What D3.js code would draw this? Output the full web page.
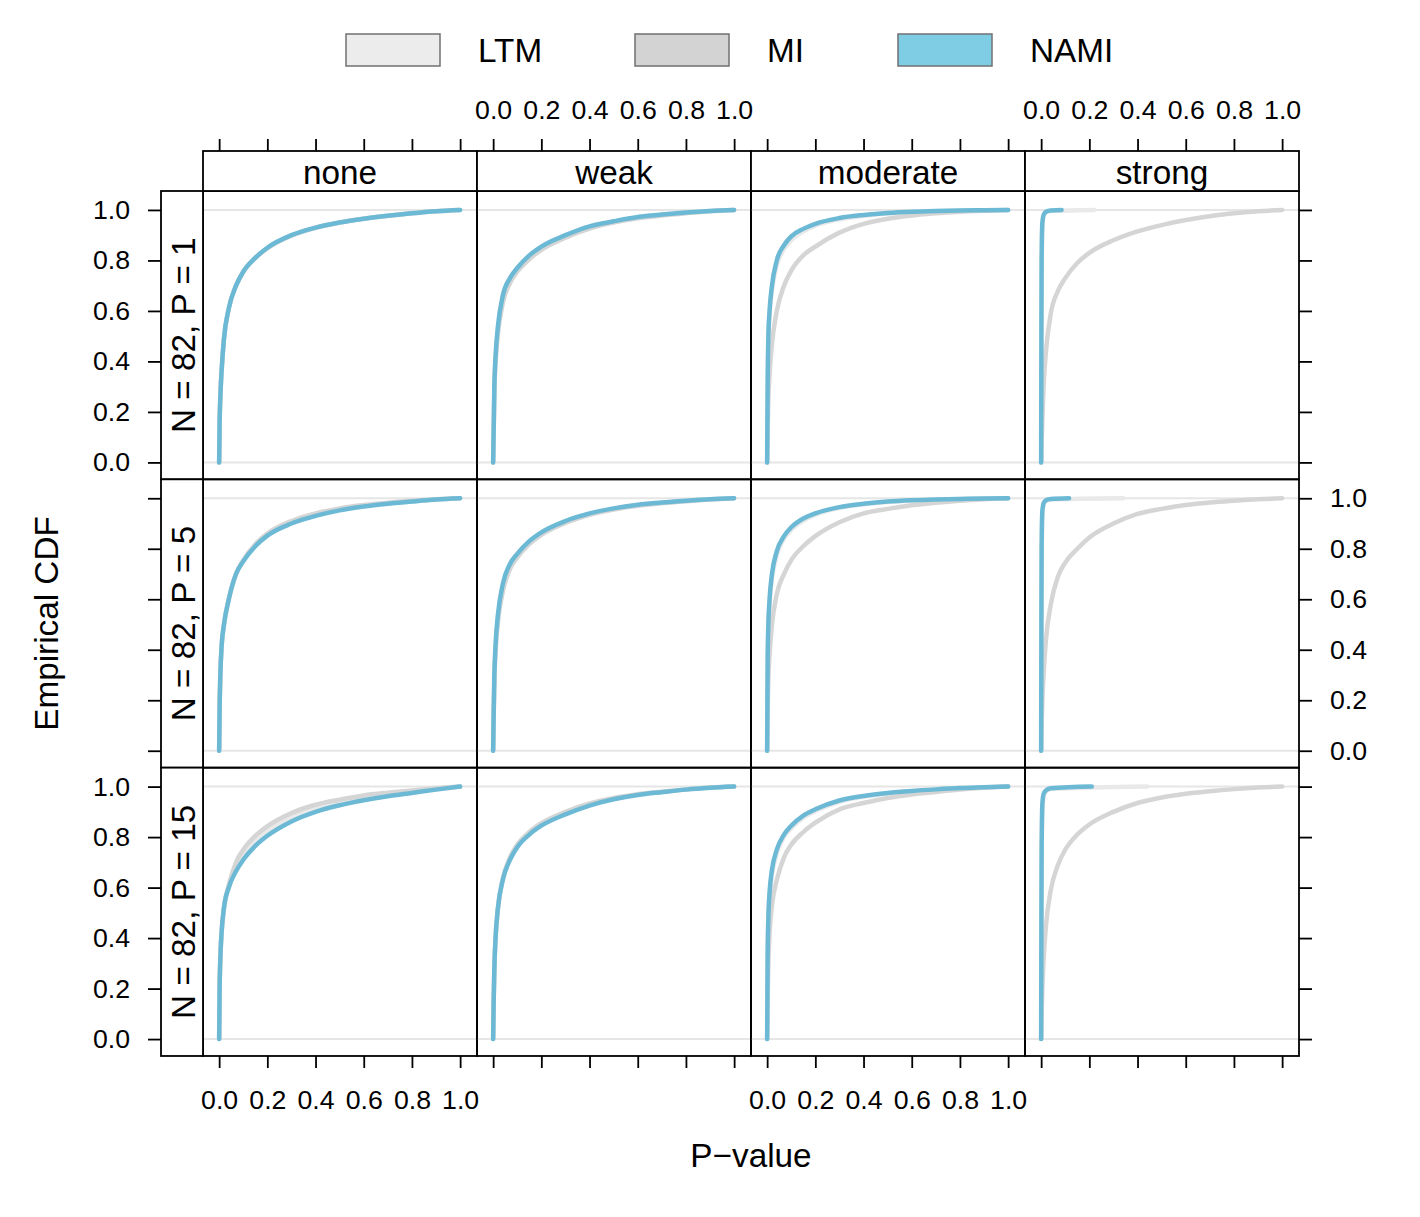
<!DOCTYPE html>
<html>
<head>
<meta charset="utf-8">
<script src="https://cdn.jsdelivr.net/npm/d3@7"></script>
<style>
  body { margin: 0; background: #fff; }
  svg { font-family: "Liberation Sans", Arial, Helvetica, sans-serif; }
</style>
</head>
<body>
<script>
// panel layout: columns = effect strength, rows = N/P setting
const cols = ["none", "weak", "moderate", "strong"];
const rows = ["N = 82, P = 1", "N = 82, P = 5", "N = 82, P = 15"];
const methods = ["LTM", "MI", "NAMI"];
const legendFill = ["#ececec", "#d3d3d3", "#7fcde5"];
const lineColor = ["#e9e9e9", "#d5d5d5", "#6cb9d5"];
const tickVals = [0, 0.2, 0.4, 0.6, 0.8, 1.0];

// p-value grid where the ECDF values were read
const pGrid = [0, 0.002, 0.005, 0.01, 0.02, 0.04, 0.07, 0.1, 0.15, 0.2, 0.3, 0.4, 0.5, 0.6, 0.7, 0.8, 0.9, 1.0];
// finer grid for the near-vertical curves in the "strong" column (last p is per row)
const pStrong = [0, 0.001, 0.002, 0.005, 0.01, 0.02, 0.04];
const namiStrongEnd = [0.085, 0.116, 0.21];
const ltmStrongEnd = [0.22, 0.34, 0.44];

// ECDF values, one array per method and row, one sub array per column
const ltmP1 = [
  [0, 0.16, 0.26, 0.36, 0.49, 0.61, 0.7, 0.755, 0.81, 0.85, 0.9, 0.93, 0.95, 0.965, 0.977, 0.987, 0.995, 1],
  [0, 0.11, 0.29, 0.41, 0.53, 0.65, 0.72, 0.765, 0.815, 0.85, 0.897, 0.932, 0.953, 0.97, 0.98, 0.989, 0.996, 1],
  [0, 0.28, 0.48, 0.58, 0.68, 0.78, 0.845, 0.88, 0.915, 0.938, 0.963, 0.977, 0.986, 0.992, 0.995, 0.997, 0.999, 1],
  [0, 0.45, 0.75, 0.93, 0.975, 0.99, 0.996, 1]
];
const miP1 = [
  [0, 0.16, 0.26, 0.36, 0.49, 0.61, 0.7, 0.755, 0.81, 0.848, 0.898, 0.929, 0.95, 0.965, 0.977, 0.987, 0.995, 1],
  [0, 0.1, 0.27, 0.39, 0.51, 0.63, 0.71, 0.755, 0.805, 0.842, 0.89, 0.926, 0.95, 0.967, 0.978, 0.987, 0.995, 1],
  [0, 0.12, 0.25, 0.35, 0.47, 0.6, 0.7, 0.76, 0.82, 0.855, 0.91, 0.945, 0.965, 0.978, 0.987, 0.993, 0.997, 1],
  [0, 0.08, 0.17, 0.3, 0.44, 0.59, 0.68, 0.73, 0.79, 0.83, 0.88, 0.915, 0.94, 0.96, 0.975, 0.987, 0.995, 1]
];
const namiP1 = [
  [0, 0.16, 0.26, 0.36, 0.49, 0.61, 0.7, 0.755, 0.81, 0.85, 0.9, 0.93, 0.95, 0.965, 0.977, 0.987, 0.995, 1],
  [0, 0.12, 0.3, 0.42, 0.54, 0.66, 0.73, 0.77, 0.82, 0.855, 0.9, 0.935, 0.955, 0.972, 0.982, 0.99, 0.996, 1],
  [0, 0.3, 0.5, 0.6, 0.7, 0.8, 0.86, 0.895, 0.925, 0.945, 0.968, 0.98, 0.988, 0.993, 0.996, 0.998, 0.999, 1],
  [0, 0.5, 0.8, 0.95, 0.98, 0.993, 0.998, 1]
];
const ltmP5 = [
  [0, 0.17, 0.3, 0.41, 0.5, 0.6, 0.7, 0.752, 0.814, 0.856, 0.905, 0.935, 0.956, 0.97, 0.98, 0.988, 0.995, 1],
  [0, 0.13, 0.29, 0.41, 0.53, 0.65, 0.73, 0.775, 0.825, 0.86, 0.906, 0.937, 0.958, 0.972, 0.982, 0.989, 0.996, 1],
  [0, 0.33, 0.48, 0.58, 0.68, 0.775, 0.84, 0.875, 0.912, 0.934, 0.962, 0.976, 0.985, 0.991, 0.995, 0.997, 0.999, 1],
  [0, 0.45, 0.75, 0.93, 0.975, 0.99, 0.995, 1]
];
const miP5 = [
  [0, 0.17, 0.3, 0.41, 0.5, 0.6, 0.7, 0.755, 0.818, 0.86, 0.91, 0.94, 0.96, 0.973, 0.982, 0.99, 0.996, 1],
  [0, 0.12, 0.27, 0.39, 0.51, 0.63, 0.72, 0.765, 0.818, 0.855, 0.902, 0.934, 0.955, 0.97, 0.98, 0.988, 0.995, 1],
  [0, 0.15, 0.28, 0.38, 0.5, 0.62, 0.7, 0.755, 0.81, 0.85, 0.905, 0.94, 0.958, 0.972, 0.982, 0.99, 0.996, 1],
  [0, 0.1, 0.2, 0.3, 0.44, 0.58, 0.69, 0.745, 0.8, 0.845, 0.9, 0.938, 0.958, 0.973, 0.983, 0.99, 0.996, 1]
];
const namiP5 = [
  [0, 0.17, 0.3, 0.41, 0.5, 0.6, 0.7, 0.75, 0.81, 0.852, 0.9, 0.93, 0.952, 0.967, 0.978, 0.987, 0.995, 1],
  [0, 0.14, 0.3, 0.42, 0.54, 0.66, 0.74, 0.78, 0.83, 0.865, 0.91, 0.94, 0.96, 0.974, 0.983, 0.99, 0.996, 1],
  [0, 0.35, 0.5, 0.6, 0.7, 0.79, 0.85, 0.885, 0.92, 0.94, 0.965, 0.978, 0.987, 0.992, 0.995, 0.997, 0.999, 1],
  [0, 0.5, 0.8, 0.95, 0.98, 0.992, 0.997, 1]
];
const ltmP15 = [
  [0, 0.2, 0.32, 0.42, 0.52, 0.61, 0.685, 0.73, 0.785, 0.825, 0.88, 0.918, 0.94, 0.958, 0.971, 0.981, 0.991, 1],
  [0, 0.14, 0.28, 0.4, 0.52, 0.632, 0.715, 0.765, 0.815, 0.85, 0.895, 0.929, 0.952, 0.968, 0.979, 0.988, 0.995, 1],
  [0, 0.31, 0.46, 0.56, 0.65, 0.735, 0.8, 0.835, 0.877, 0.903, 0.94, 0.96, 0.973, 0.982, 0.988, 0.993, 0.997, 1],
  [0, 0.4, 0.7, 0.9, 0.96, 0.98, 0.99, 1]
];
const miP15 = [
  [0, 0.2, 0.32, 0.42, 0.52, 0.61, 0.7, 0.75, 0.805, 0.843, 0.895, 0.928, 0.948, 0.965, 0.976, 0.985, 0.993, 1],
  [0, 0.14, 0.28, 0.4, 0.52, 0.635, 0.72, 0.77, 0.82, 0.855, 0.9, 0.933, 0.955, 0.97, 0.98, 0.989, 0.996, 1],
  [0, 0.15, 0.3, 0.42, 0.53, 0.63, 0.72, 0.77, 0.82, 0.857, 0.91, 0.935, 0.955, 0.969, 0.979, 0.988, 0.995, 1],
  [0, 0.1, 0.2, 0.31, 0.45, 0.59, 0.69, 0.75, 0.81, 0.85, 0.9, 0.935, 0.957, 0.972, 0.982, 0.99, 0.996, 1]
];
const namiP15 = [
  [0, 0.2, 0.32, 0.42, 0.52, 0.6, 0.665, 0.71, 0.765, 0.805, 0.862, 0.9, 0.926, 0.946, 0.962, 0.975, 0.988, 1],
  [0, 0.14, 0.28, 0.4, 0.52, 0.63, 0.71, 0.76, 0.81, 0.845, 0.89, 0.925, 0.95, 0.967, 0.978, 0.988, 0.995, 1],
  [0, 0.33, 0.48, 0.58, 0.67, 0.75, 0.81, 0.845, 0.885, 0.91, 0.945, 0.963, 0.975, 0.983, 0.989, 0.994, 0.997, 1],
  [0, 0.45, 0.75, 0.93, 0.97, 0.985, 0.993, 1]
];

const ecdf = [
  [ltmP1, miP1, namiP1],
  [ltmP5, miP5, namiP5],
  [ltmP15, miP15, namiP15]
];

// structure of the svg
const width = 1420, height = 1217;
const plotLeft = 203, plotTop = 191;
const panelW = 274, panelH = 288.33;
const stripH = 40, sideStripW = 42;
const tickLen = 12;
const tickFont = 26.7, mainFont = 33.3;

const svg = d3.select("body").append("svg")
  .attr("width", width).attr("height", height);

const xScale = d3.scaleLinear().domain([-0.067, 1.07]).range([0, panelW]);
const yScale = d3.scaleLinear().domain([-0.067, 1.075]).range([panelH, 0]);

const line = d3.line()
  .x(d => xScale(d[0]))
  .y(d => yScale(d[1]))
  .curve(d3.curveMonotoneX);

function pointsFor(r, c, m) {
  const vals = ecdf[r][m][c];
  let ps = pGrid;
  if (c === 3 && m !== 1) {
    ps = pStrong.concat([m === 2 ? namiStrongEnd[r] : ltmStrongEnd[r]]);
  }
  return vals.map((v, i) => [ps[i], v]);
}

// panels
rows.forEach((rowName, r) => {
  cols.forEach((colName, c) => {
    const g = svg.append("g")
      .attr("transform", "translate(" + (plotLeft + c * panelW) + "," + (plotTop + r * panelH) + ")");

    // reference lines at 0 and 1
    g.selectAll("line.ref")
      .data([0, 1])
      .enter()
      .append("line")
      .attr("class", "ref")
      .attr("x1", 0).attr("x2", panelW)
      .attr("y1", d => yScale(d)).attr("y2", d => yScale(d))
      .attr("stroke", "#e6e6e6")
      .attr("stroke-width", 2);

    methods.forEach((m, mi) => {
      g.append("path")
        .datum(pointsFor(r, c, mi))
        .attr("d", line)
        .attr("fill", "none")
        .attr("stroke", lineColor[mi])
        .attr("stroke-width", 4.5)
        .attr("stroke-linecap", "round")
        .attr("stroke-linejoin", "round");
    });

    g.append("rect")
      .attr("width", panelW).attr("height", panelH)
      .attr("fill", "none")
      .attr("stroke", "#000")
      .attr("stroke-width", 1.8);
  });
});

// top strips
cols.forEach((colName, c) => {
  const x0 = plotLeft + c * panelW;
  svg.append("rect")
    .attr("x", x0).attr("y", plotTop - stripH)
    .attr("width", panelW).attr("height", stripH)
    .attr("fill", "#fff").attr("stroke", "#000").attr("stroke-width", 1.8);
  svg.append("text")
    .attr("x", x0 + panelW / 2).attr("y", plotTop - 7)
    .attr("text-anchor", "middle")
    .attr("font-size", mainFont)
    .text(colName);
});

// side strips
rows.forEach((rowName, r) => {
  const y0 = plotTop + r * panelH;
  svg.append("rect")
    .attr("x", plotLeft - sideStripW).attr("y", y0)
    .attr("width", sideStripW).attr("height", panelH)
    .attr("fill", "#fff").attr("stroke", "#000").attr("stroke-width", 1.8);
  svg.append("text")
    .attr("transform", "translate(" + (plotLeft - 8) + "," + (y0 + panelH / 2) + ") rotate(-90)")
    .attr("text-anchor", "middle")
    .attr("font-size", mainFont)
    .text(rowName);
});

function styleAxis(sel) {
  sel.select(".domain").remove();
  sel.selectAll(".tick line").attr("stroke", "#000").attr("stroke-width", 1.8);
  sel.selectAll(".tick text").attr("font-size", tickFont).attr("fill", "#000");
  sel.attr("font-family", null);
}

// x axes: labels alternate between bottom (none, moderate) and top (weak, strong)
cols.forEach((colName, c) => {
  const x0 = plotLeft + c * panelW;
  const topAxis = d3.axisTop(xScale).tickValues(tickVals)
    .tickSize(tickLen).tickPadding(20)
    .tickFormat(c % 2 === 1 ? d3.format(".1f") : () => "");
  svg.append("g")
    .attr("transform", "translate(" + x0 + "," + (plotTop - stripH) + ")")
    .call(topAxis).call(styleAxis);

  const bottomAxis = d3.axisBottom(xScale).tickValues(tickVals)
    .tickSize(tickLen).tickPadding(22)
    .tickFormat(c % 2 === 0 ? d3.format(".1f") : () => "");
  svg.append("g")
    .attr("transform", "translate(" + x0 + "," + (plotTop + 3 * panelH) + ")")
    .call(bottomAxis).call(styleAxis);
});

// y axes: labels on the left for rows 1 and 3, on the right for row 2
rows.forEach((rowName, r) => {
  const y0 = plotTop + r * panelH;
  const leftAxis = d3.axisLeft(yScale).tickValues(tickVals)
    .tickSize(tickLen + 1).tickPadding(18)
    .tickFormat(r % 2 === 0 ? d3.format(".1f") : () => "");
  svg.append("g")
    .attr("transform", "translate(" + (plotLeft - sideStripW) + "," + y0 + ")")
    .call(leftAxis).call(styleAxis);

  const rightAxis = d3.axisRight(yScale).tickValues(tickVals)
    .tickSize(tickLen + 1).tickPadding(18)
    .tickFormat(r % 2 === 1 ? d3.format(".1f") : () => "");
  svg.append("g")
    .attr("transform", "translate(" + (plotLeft + 4 * panelW) + "," + y0 + ")")
    .call(rightAxis).call(styleAxis);
});

// legend
const legendX = [346, 635, 898];
methods.forEach((m, i) => {
  svg.append("rect")
    .attr("x", legendX[i]).attr("y", 34)
    .attr("width", 94).attr("height", 32)
    .attr("fill", legendFill[i])
    .attr("stroke", "#707070").attr("stroke-width", 1.5);
  svg.append("text")
    .attr("x", legendX[i] + 132).attr("y", 62)
    .attr("font-size", mainFont)
    .text(m);
});

// axis titles
svg.append("text")
  .attr("x", plotLeft + 2 * panelW).attr("y", 1167)
  .attr("text-anchor", "middle")
  .attr("font-size", mainFont)
  .text("P\u2212value");

svg.append("text")
  .attr("transform", "translate(58," + (plotTop + 1.5 * panelH) + ") rotate(-90)")
  .attr("text-anchor", "middle")
  .attr("font-size", mainFont)
  .text("Empirical CDF");
</script>
</body>
</html>
